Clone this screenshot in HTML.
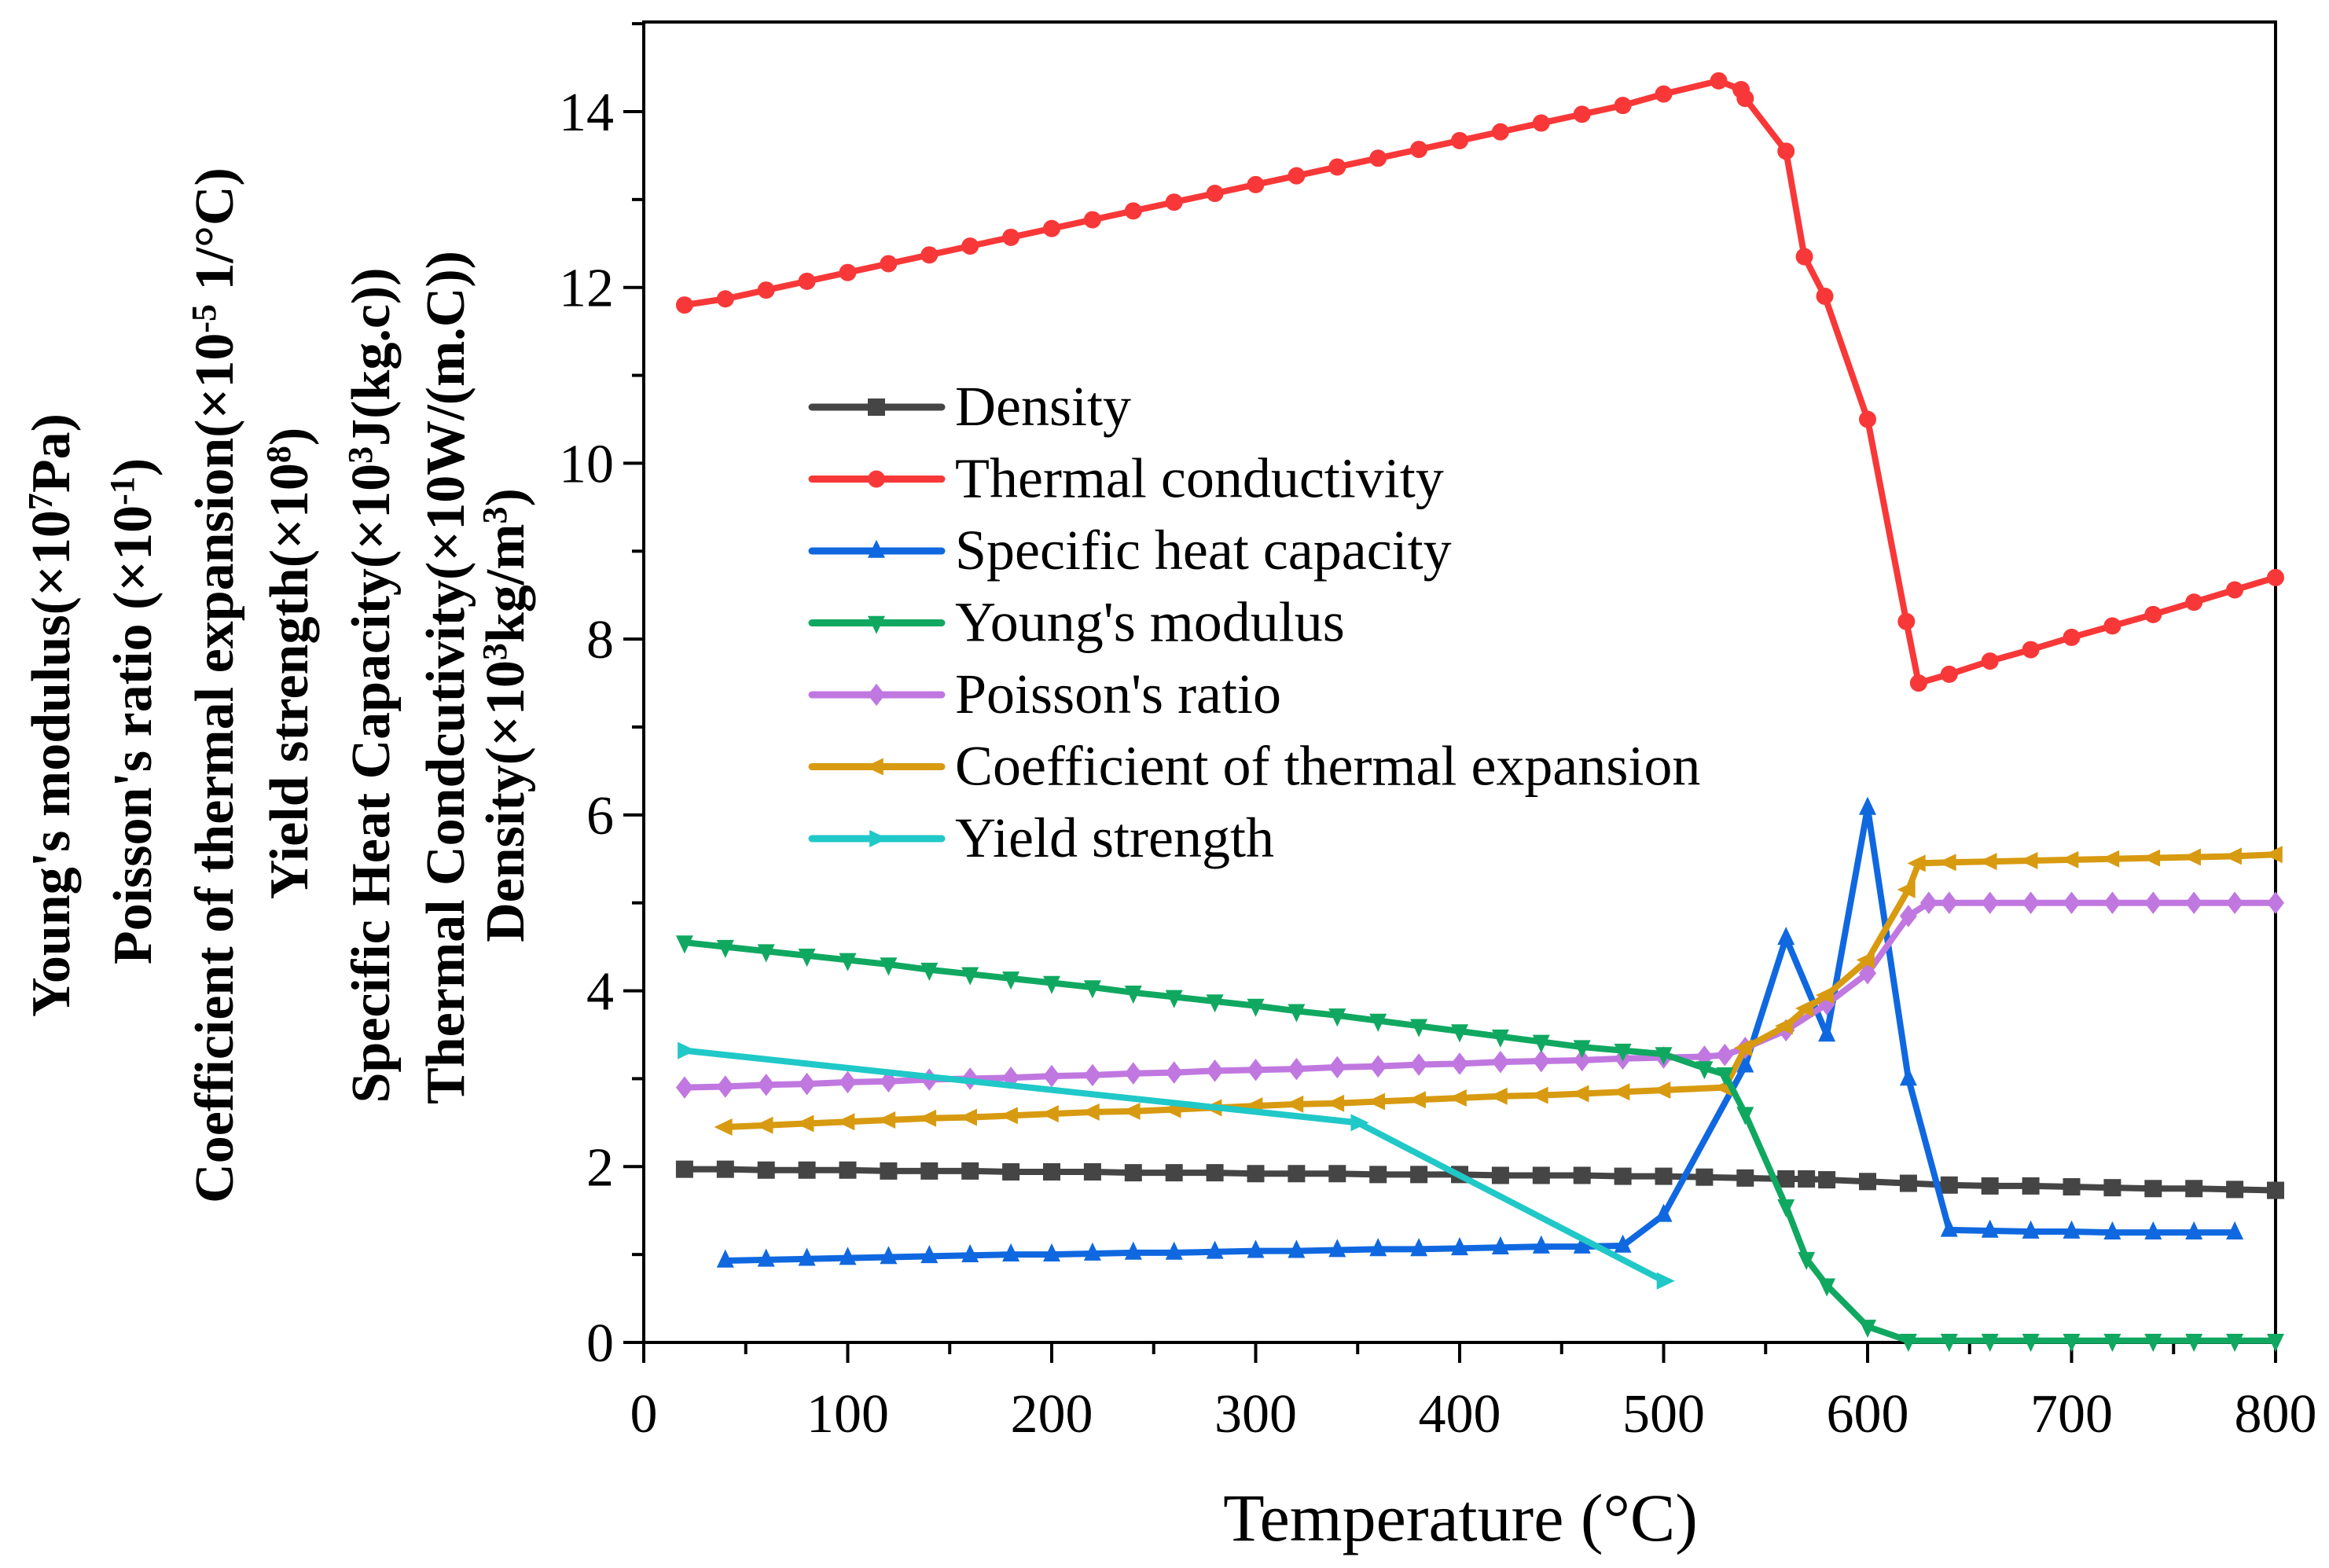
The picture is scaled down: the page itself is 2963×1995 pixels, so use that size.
<!DOCTYPE html>
<html><head><meta charset="utf-8"><style>
html,body{margin:0;padding:0;background:#fff;}
svg{display:block;font-family:"Liberation Serif",serif;}
</style></head><body>
<svg id="chart" width="2963" height="1995" viewBox="0 0 2963 1995">
<g id="ytitle" font-weight="bold" font-size="70" fill="#000">
<text transform="translate(88,910) rotate(-90)" text-anchor="middle">Young's modulus(×10<tspan dy="-22" font-size="44">7</tspan><tspan dy="22">Pa)</tspan></text>
<text transform="translate(192,905) rotate(-90)" text-anchor="middle">Poisson's ratio (×10<tspan dy="-22" font-size="44">-1</tspan><tspan dy="22">)</tspan></text>
<text transform="translate(296,872) rotate(-90)" text-anchor="middle">Coefficient of thermal expansion(×10<tspan dy="-22" font-size="44">-5</tspan><tspan dy="22"> 1/°C)</tspan></text>
<text transform="translate(391,844) rotate(-90)" text-anchor="middle">Yield strength(×10<tspan dy="-22" font-size="44">8</tspan><tspan dy="22">)</tspan></text>
<text transform="translate(495,872) rotate(-90)" text-anchor="middle">Specific Heat Capacity(×10<tspan dy="-22" font-size="44">3</tspan><tspan dy="22">J(kg.c))</tspan></text>
<text transform="translate(590,862) rotate(-90)" text-anchor="middle">Thermal Condcutivity(×10W/(m.C))</text>
<text transform="translate(666,910) rotate(-90)" text-anchor="middle">Density(×10<tspan dy="-22" font-size="44">3</tspan><tspan dy="22">kg/m</tspan><tspan dy="-22" font-size="44">3</tspan><tspan dy="22">)</tspan></text>
</g>
<g id="plot"></g>
<text x="1858" y="1960" text-anchor="middle" font-size="86">Temperature (°C)</text>
</svg>
<script>
const xTicks=[0,100,200,300,400,500,600,700,800];
const yTicks=[0,2,4,6,8,10,12,14];
const densityX=[20,40,60,80,100,120,140,160,180,200,220,240,260,280,300,320,340,360,380,400,420,440,460,480,500,520,540,560,570,580,600,620,640,660,680,700,720,740,760,780,800];
const densityY=[1.97,1.97,1.96,1.96,1.96,1.95,1.95,1.95,1.94,1.94,1.94,1.93,1.93,1.93,1.92,1.92,1.92,1.91,1.91,1.91,1.90,1.90,1.90,1.89,1.89,1.88,1.87,1.86,1.86,1.85,1.83,1.81,1.79,1.78,1.78,1.77,1.76,1.75,1.75,1.74,1.73];
const thermalX=[20,40,60,80,100,120,140,160,180,200,220,240,260,280,300,320,340,360,380,400,420,440,460,480,500,527,538,540,560,569,579,600,619,625,640,660,680,700,720,740,760,780,800];
const thermalY=[11.8,11.87,11.97,12.07,12.17,12.27,12.37,12.47,12.57,12.67,12.77,12.87,12.97,13.07,13.17,13.27,13.37,13.47,13.57,13.67,13.77,13.87,13.97,14.07,14.2,14.35,14.25,14.15,13.55,12.35,11.9,10.5,8.2,7.5,7.6,7.75,7.88,8.02,8.15,8.28,8.42,8.56,8.7];
const heatX=[40,60,80,100,120,140,160,180,200,220,240,260,280,300,320,340,360,380,400,420,440,460,480,500,540,560,580,600,620,640,660,680,700,720,740,760,780];
const heatY=[0.93,0.94,0.95,0.96,0.97,0.98,0.99,1.0,1.0,1.01,1.02,1.02,1.03,1.04,1.04,1.05,1.06,1.06,1.07,1.08,1.09,1.09,1.1,1.45,3.15,4.6,3.5,6.08,3.0,1.28,1.27,1.26,1.26,1.25,1.25,1.25,1.25];
const youngX=[20,40,60,80,100,120,140,160,180,200,220,240,260,280,300,320,340,360,380,400,420,440,460,480,500,520,530,540,560,570,580,600,620,640,660,680,700,720,740,760,780,800];
const youngY=[4.55,4.5,4.45,4.4,4.35,4.3,4.24,4.19,4.14,4.09,4.04,3.98,3.93,3.88,3.83,3.77,3.72,3.66,3.6,3.54,3.48,3.42,3.36,3.32,3.28,3.12,3.05,2.6,1.55,0.95,0.65,0.18,0.02,0.02,0.02,0.02,0.02,0.02,0.02,0.02,0.02,0.02];
const poissonX=[20,40,60,80,100,120,140,160,180,200,220,240,260,280,300,320,340,360,380,400,420,440,460,480,500,520,530,540,560,580,600,620,630,640,660,680,700,720,740,760,780,800];
const poissonY=[2.9,2.91,2.93,2.94,2.96,2.97,2.99,3.0,3.01,3.03,3.04,3.06,3.07,3.09,3.1,3.11,3.13,3.14,3.16,3.17,3.19,3.2,3.21,3.23,3.24,3.25,3.27,3.35,3.55,3.85,4.2,4.85,5.0,5.0,5.0,5.0,5.0,5.0,5.0,5.0,5.0,5.0];
const expX=[40,60,80,100,120,140,160,180,200,220,240,260,280,300,320,340,360,380,400,420,440,460,480,500,530,540,560,570,580,600,620,625,640,660,680,700,720,740,760,780,800];
const expY=[2.45,2.47,2.49,2.51,2.53,2.55,2.56,2.58,2.6,2.62,2.63,2.65,2.67,2.69,2.71,2.72,2.74,2.76,2.78,2.8,2.81,2.83,2.85,2.87,2.9,3.35,3.6,3.8,3.95,4.35,5.15,5.45,5.46,5.47,5.48,5.49,5.5,5.51,5.52,5.53,5.55];
const yieldX=[20,350,500];
const yieldY=[3.32,2.5,0.7];
const seriesNames=["Density","Thermal conductivity","Specific heat capacity","Young's modulus","Poisson's ratio","Coefficient of thermal expansion","Yield strength"];

const X0=819,X1=2895,Y0=1708,Y14=142,TOP=28;
const sx=v=>X0+(X1-X0)*v/800;
const sy=v=>Y0-(Y0-Y14)*v/14;
const NS="http://www.w3.org/2000/svg";
const plot=document.getElementById('plot');
function mk(tag,attrs,parent){const e=document.createElementNS(NS,tag);for(const k in attrs)e.setAttribute(k,attrs[k]);(parent||plot).appendChild(e);return e;}

const frame=mk('rect',{x:X0,y:TOP,width:X1-X0,height:Y0-TOP,fill:'none',stroke:'#000','stroke-width':4});


for(let v=0;v<=800;v+=50){
  const t=mk('line',{x1:sx(v),x2:sx(v),y1:Y0,y2:Y0+(v%100===0?26:15),stroke:'#000','stroke-width':4});
  
  
}
xTicks.forEach(v=>{
  const t=mk('text',{x:sx(v),y:1822,'text-anchor':'middle','font-size':70});
  t.textContent=v;
  
  
});
for(let v=0;v<=15;v+=1){
  const t=mk('line',{x1:X0,x2:X0-(v%2===0?26:15),y1:sy(v),y2:sy(v),stroke:'#000','stroke-width':4});
  
  
}
yTicks.forEach(v=>{
  const t=mk('text',{x:781,y:sy(v)+24,'text-anchor':'end','font-size':70});
  t.textContent=v;
  
  
});

function marker(type,x,y,color,g){
  const r=11;let e;
  if(type==='square'){e=mk('rect',{x:x-r,y:y-r,width:2*r,height:2*r,fill:color},g);}
  else if(type==='circle'){e=mk('circle',{cx:x,cy:y,r:r,fill:color},g);}
  else{
    let p;
    if(type==='up')p=[[x,y-r*1.3],[x-r,y+r*0.8],[x+r,y+r*0.8]];
    if(type==='down')p=[[x,y+r*1.3],[x-r,y-r*0.8],[x+r,y-r*0.8]];
    if(type==='left')p=[[x-r*1.3,y],[x+r*0.8,y-r],[x+r*0.8,y+r]];
    if(type==='right')p=[[x+r*1.3,y],[x-r*0.8,y-r],[x-r*0.8,y+r]];
    if(type==='diamond')p=[[x,y-r*1.3],[x+r,y],[x,y+r*1.3],[x-r,y]];
    e=mk('polygon',{points:p.map(q=>q.join(',')).join(' '),fill:color},g);
  }
  
  
}
const series=[
 {xs:densityX,ys:densityY,c:'#454545',m:'square',n:'density'},
 {xs:heatX,ys:heatY,c:'#1068e0',m:'up',n:'specific-heat'},
 {xs:poissonX,ys:poissonY,c:'#c078e0',m:'diamond',n:'poisson'},
 {xs:expX,ys:expY,c:'#d89a10',m:'left',n:'expansion'},
 {xs:youngX,ys:youngY,c:'#10a860',m:'down',n:'young'},
 {xs:yieldX,ys:yieldY,c:'#20c8c8',m:'right',n:'yield'},
 {xs:thermalX,ys:thermalY,c:'#f83838',m:'circle',n:'thermal'}
];
series.forEach(s=>{
  const g=mk('g',{});
  
  
  const pl=mk('polyline',{points:s.xs.map((x,i)=>sx(x)+','+sy(s.ys[i])).join(' '),fill:'none',stroke:s.c,'stroke-width':8,'stroke-linejoin':'round'},g);
  
  
  s.xs.forEach((x,i)=>marker(s.m,sx(x),sy(s.ys[i]),s.c,g));
});
const legOrder=[['#454545','square'],['#f83838','circle'],['#1068e0','up'],['#10a860','down'],['#c078e0','diamond'],['#d89a10','left'],['#20c8c8','right']];
const lg=mk('g',{});


legOrder.forEach((L,i)=>{
  const y=518+i*91.5;
  const g=mk('g',{},lg);
  
  
  mk('line',{x1:1033,x2:1198,y1:y,y2:y,stroke:L[0],'stroke-width':9,'stroke-linecap':'round'},g);
  marker(L[1],1115,y,L[0],g);
  const t=mk('text',{x:1215,y:y+23,'font-size':72},g);
  t.textContent=seriesNames[i];
  
  
});
</script>
</body></html>
